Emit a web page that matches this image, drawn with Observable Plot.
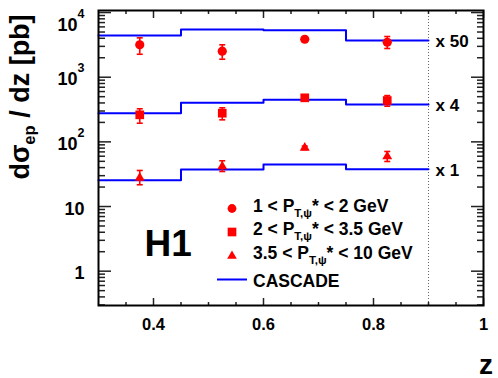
<!DOCTYPE html>
<html><head><meta charset="utf-8">
<script src="https://cdn.jsdelivr.net/npm/d3@7"></script>
<script src="https://cdn.jsdelivr.net/npm/@observablehq/plot@0.6"></script>
<style>
body{margin:0;background:#fff;}
#chart svg{display:block;}
</style></head><body><div id="chart"></div>
<script>
// ---- data ----
const binEdges = [0.3, 0.45, 0.6, 0.75, 0.9];
const zCenters = [0.375, 0.525, 0.675, 0.825];
const scaleFactors = [50, 4, 1];
const scaleLabels = ["x 50", "x 4", "x 1"];
// H1 data, unscaled dσ/dz [pb]
const pt1Val = [63.4, 50.5, 77.3, 69.5];
const pt1Lo  = [45.3, 38.0, 72.0, 55.6];
const pt1Hi  = [81.3, 63.4, 83.0, 85.2];
const pt2Val = [65.5, 69.4, 120, 109];
const pt2Lo  = [48.6, 54.8, 114, 89];
const pt2Hi  = [81.2, 84.1, 126, 130];
const pt3Val = [27.8, 41.6, 81.0, 59.4];
const pt3Lo  = [21.7, 34.8, 76.0, 49.7];
const pt3Hi  = [36.1, 51.0, 86.0, 71.0];
// CASCADE predictions per bin, unscaled
const cascade1 = [88.3, 109.3, 106.6, 73.8];
const cascade2 = [69.4, 100.5, 111.8, 94.6];
const cascade3 = [25.5, 37.4, 44.7, 37.8];
// legend entries
const legendLo = ["1", "2", "3.5"];
const legendHi = ["2", "3.5", "10"];
const legendModel = "CASCADE";
// ticks
const xMajorTicks = [0.4, 0.6, 0.8, 1.0];
const xTickLabels = ["0.4", "0.6", "0.8", "1"];
const xMinorTicks = [0.35, 0.45, 0.5, 0.55, 0.65, 0.7, 0.75, 0.85, 0.9, 0.95];
const yMajorTicks = [1, 10, 100, 1000, 10000];
const yTickLabels = ["1", "10", "10^2", "10^3", "10^4"];
const yMinorTicks = [0.3,0.4,0.5,0.6,0.7,0.8,0.9, 2,3,4,5,6,7,8,9, 20,30,40,50,60,70,80,90,
  200,300,400,500,600,700,800,900, 2000,3000,4000,5000,6000,7000,8000,9000];

const FONT = '"Liberation Sans", Arial, Helvetica, sans-serif';
const RED = "#ff0000", BLUE = "#0000ff", TICK = "#222";

const series = [
  {val: pt1Val, lo: pt1Lo, hi: pt1Hi, mc: cascade1, k: scaleFactors[0], symbol: "circle", r: 4.6},
  {val: pt2Val, lo: pt2Lo, hi: pt2Hi, mc: cascade2, k: scaleFactors[1], symbol: "square", r: 4.9},
  {val: pt3Val, lo: pt3Lo, hi: pt3Hi, mc: cascade3, k: scaleFactors[2], symbol: "triangle", r: 3.7}
];
const points = series.map(s => zCenters.map((z, i) => ({z, v: s.val[i]*s.k, lo: s.lo[i]*s.k, hi: s.hi[i]*s.k})));
const steps = series.flatMap((s, si) => binEdges.map((e, i) => ({z: e, v: s.mc[Math.min(i, s.mc.length-1)]*s.k, si})));
const scaleTags = series.map((s, si) => ({z: binEdges[binEdges.length-1], v: s.mc[s.mc.length-1]*s.k, t: scaleLabels[si]}));

const capSymbol = {draw(ctx, size){ const w = Math.sqrt(size/Math.PI); ctx.moveTo(-w,0); ctx.lineTo(w,0); }};

const marks = [
  Plot.ruleX([binEdges[binEdges.length-1]], {stroke: "#666", strokeWidth: 1, strokeDasharray: "1,2"}),
  Plot.line(steps, {x: "z", y: "v", z: "si", curve: "step-after", stroke: BLUE, strokeWidth: 2}),
];
series.forEach((s, si) => {
  marks.push(Plot.ruleX(points[si], {x: "z", y1: "lo", y2: "hi", stroke: RED, strokeWidth: 1.6}));
  marks.push(Plot.dot(points[si], {x: "z", y: "lo", symbol: capSymbol, r: 3, stroke: RED, strokeWidth: 1.6}));
  marks.push(Plot.dot(points[si], {x: "z", y: "hi", symbol: capSymbol, r: 3, stroke: RED, strokeWidth: 1.6}));
  marks.push(Plot.dot(points[si], {x: "z", y: "v", symbol: s.symbol, r: s.r, fill: RED, stroke: "none"}));
});
marks.push(
  Plot.text(scaleTags, {x: "z", y: "v", text: "t", dx: 7, dy: 1, textAnchor: "start", fontSize: 17, fontWeight: "bold", fill: "black"}),
  Plot.text(["H1"], {frameAnchor: "bottom-left", dx: 46, dy: -50, lineAnchor: "bottom", textAnchor: "start", fontSize: 37, fontWeight: "bold", fill: "black"}),
  // inward ticks on all four sides
  Plot.axisY(yMajorTicks, {anchor: "right", frameAnchor: "left", tickSize: 12, fill: "none", stroke: TICK, strokeWidth: 1.5}),
  Plot.axisY(yMinorTicks, {anchor: "right", frameAnchor: "left", tickSize: 6, fill: "none", stroke: TICK, strokeWidth: 1.5}),
  Plot.axisY(yMajorTicks, {anchor: "left", frameAnchor: "right", tickSize: 12, fill: "none", stroke: TICK, strokeWidth: 1.5}),
  Plot.axisY(yMinorTicks, {anchor: "left", frameAnchor: "right", tickSize: 6, fill: "none", stroke: TICK, strokeWidth: 1.5}),
  Plot.axisX(xMajorTicks, {anchor: "top", frameAnchor: "bottom", tickSize: 8, fill: "none", stroke: TICK, strokeWidth: 1.5}),
  Plot.axisX(xMinorTicks, {anchor: "top", frameAnchor: "bottom", tickSize: 4, fill: "none", stroke: TICK, strokeWidth: 1.5}),
  Plot.axisX(xMajorTicks, {anchor: "bottom", frameAnchor: "top", tickSize: 8, fill: "none", stroke: TICK, strokeWidth: 1.5}),
  Plot.axisX(xMinorTicks, {anchor: "bottom", frameAnchor: "top", tickSize: 4, fill: "none", stroke: TICK, strokeWidth: 1.5}),
  // tick labels
  Plot.axisY(yMajorTicks, {anchor: "left", tickSize: 0, tickPadding: 14, label: null, dy: 2.5,
    tickFormat: d => yTickLabels[yMajorTicks.indexOf(d)], fontSize: 18, fontWeight: "bold", fill: "black"}),
  Plot.axisX(xMajorTicks, {anchor: "bottom", tickSize: 0, tickPadding: 13, label: null,
    tickFormat: d => xTickLabels[xMajorTicks.indexOf(d)], fontSize: 16.5, fontWeight: "bold", fill: "black"}),
  Plot.frame({stroke: "black", strokeWidth: 2})
);

const chart = Plot.plot({
  width: 498, height: 378,
  marginLeft: 98, marginRight: 15, marginTop: 10, marginBottom: 73,
  style: {fontFamily: FONT, background: "white", overflow: "visible"},
  x: {domain: [0.3, 1.0]},
  y: {type: "log", domain: [0.2945, 10760]},
  marks
});
document.getElementById("chart").appendChild(chart);

const svg = d3.select(chart);
// superscripts for powers of ten
svg.selectAll('g[aria-label="y-axis tick label"] text').each(function(){
  const t = this.textContent;
  if (t.includes("^")) {
    const [b, e] = t.split("^");
    this.textContent = "";
    const s = d3.select(this);
    s.append("tspan").text(b);
    s.append("tspan").attr("dy", "-13").attr("font-size", 12.5).text(e);
    if (e === "4") s.attr("dy", "0.55em"); // ROOT nudges the top label down
  }
});
// y title
const yt = svg.append("text")
  .attr("transform", "translate(29,97) rotate(-90)")
  .attr("text-anchor", "middle").attr("font-family", FONT)
  .attr("font-weight", "bold").attr("font-size", 27).attr("fill", "black");
yt.append("tspan").text("dσ");
yt.append("tspan").attr("font-size", 16.5).attr("dy", 6).text("ep");
yt.append("tspan").attr("dy", -6).text(" / dz [pb]");
// x title
svg.append("text").attr("x", 493).attr("y", 373.5).attr("text-anchor", "end")
  .attr("font-family", FONT).attr("font-weight", "bold").attr("font-size", 28).attr("fill", "black").text("z");

// legend
const legendSyms = [[d3.symbolCircle, 4.4], [d3.symbolSquare, 4.9], [d3.symbolTriangle, 3.6]];
const lg = svg.append("g").attr("font-family", FONT).attr("font-weight", "bold").attr("fill", "black")
  .attr("text-anchor", "start");
const rowY = [208.5, 232, 256];
legendSyms.forEach(([sym, r], i) => {
  lg.append("path").attr("transform", `translate(232,${rowY[i]})`)
    .attr("d", d3.symbol(sym, Math.PI*r*r)()).attr("fill", RED);
  const t = lg.append("text").attr("x", 253).attr("y", rowY[i] + 3).attr("font-size", 17.5);
  t.append("tspan").text(`${legendLo[i]} < P`);
  t.append("tspan").attr("font-size", 11.5).attr("dy", 5).text("T,ψ");
  t.append("tspan").attr("dy", -5).text(`* < ${legendHi[i]} GeV`);
});
lg.append("line").attr("x1", 217).attr("x2", 247).attr("y1", 279.5).attr("y2", 279.5)
  .attr("stroke", BLUE).attr("stroke-width", 2);
lg.append("text").attr("x", 253).attr("y", 286.5).attr("font-size", 17.5).text(legendModel);
</script></body></html>
